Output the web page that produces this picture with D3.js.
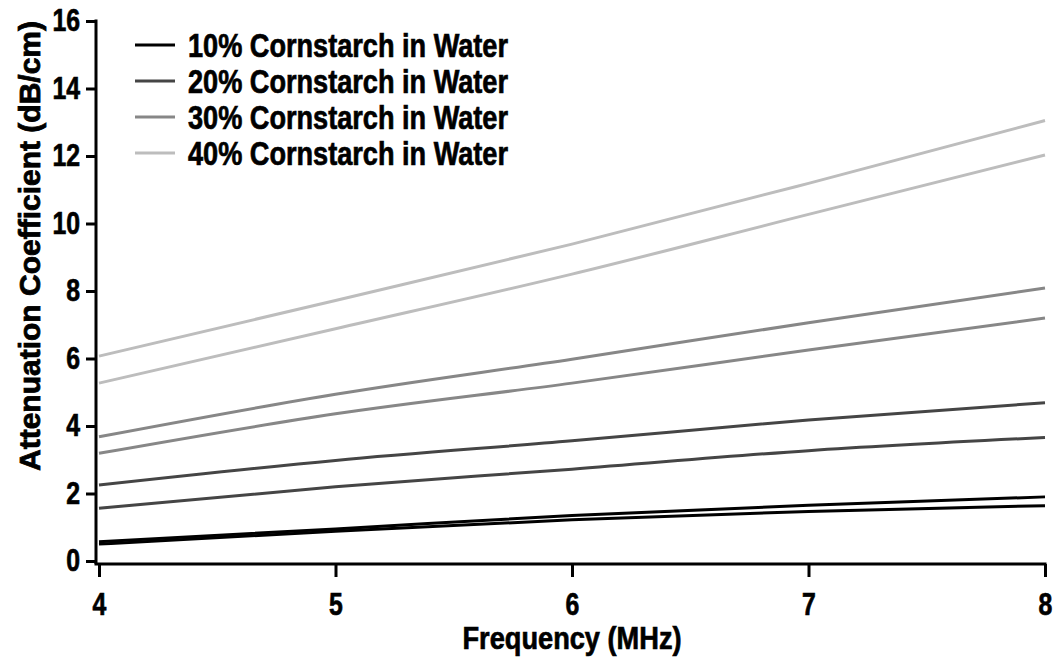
<!DOCTYPE html>
<html>
<head>
<meta charset="utf-8">
<script src="https://cdn.jsdelivr.net/npm/d3@7"></script>
<style>
  html, body { margin: 0; padding: 0; background: #fff; }
  svg { display: block; }
</style>
</head>
<body>
<svg id="chart" width="1055" height="660"></svg>
<script>
// ---- data ----
const freqs = [4, 5, 6, 7, 8];
const xTicks = [4, 5, 6, 7, 8];
const yTicks = [0, 2, 4, 6, 8, 10, 12, 14, 16];
const legendLabels = ["10% Cornstarch in Water", "20% Cornstarch in Water", "30% Cornstarch in Water", "40% Cornstarch in Water"];
const s10a = [0.57, 0.95, 1.35, 1.65, 1.90];
const s10b = [0.50, 0.88, 1.22, 1.47, 1.64];
const s20a = [2.25, 2.98, 3.56, 4.18, 4.69];
const s20b = [1.56, 2.20, 2.72, 3.27, 3.66];
const s30a = [3.68, 4.94, 5.98, 7.06, 8.09];
const s30b = [3.19, 4.36, 5.27, 6.25, 7.20];
const s40a = [6.07, 7.72, 9.39, 11.19, 13.05];
const s40b = [5.27, 6.88, 8.50, 10.27, 12.03];
const colors = ["#000000", "#454545", "#878787", "#bdbdbd"];
const seriesGroups = [[s10a, s10b], [s20a, s20b], [s30a, s30b], [s40a, s40b]];

// ---- layout ----
const svg = d3.select("#chart");
const font = "'Liberation Sans', Arial, Helvetica, sans-serif";
const SX = 0.8; // horizontal condensing to mimic Helvetica Condensed Bold
const x = d3.scaleLinear().domain([4, 8]).range([99, 1045]);
const y = d3.scaleLinear().domain([0, 16]).range([561, 21]);
const axisX = 96, axisY = 564;

// lines
const line = d3.line().x((d, i) => x(freqs[i])).y(d => y(d)).curve(d3.curveMonotoneX);
const gLines = svg.append("g");
for (let k = seriesGroups.length - 1; k >= 0; k--) {
  seriesGroups[k].forEach(s => {
    gLines.append("path").datum(s)
      .attr("d", line)
      .attr("fill", "none")
      .attr("stroke", colors[k])
      .attr("stroke-width", 3);
  });
}

function heavy(sel) {
  sel.attr("font-family", font).attr("font-weight", "bold").attr("fill", "#000")
    .attr("stroke", "#000").attr("stroke-width", 0.7);
}

// y axis
const gy = svg.append("g").attr("transform", `translate(${axisX},0)`)
  .call(d3.axisLeft(y).tickValues(yTicks).tickSize(10).tickSizeOuter(0).tickPadding(6));
gy.select(".domain").remove();
gy.selectAll(".tick line").attr("stroke", "#000").attr("stroke-width", 3);
gy.selectAll(".tick text").call(heavy).attr("font-size", 31)
  .attr("x", -16 / SX).attr("transform", `scale(${SX},1)`);
svg.append("line").attr("x1", axisX).attr("x2", axisX).attr("y1", y(16) - 1.5).attr("y2", axisY)
  .attr("stroke", "#000").attr("stroke-width", 3);

// x axis
const gx = svg.append("g").attr("transform", `translate(0,${axisY})`)
  .call(d3.axisBottom(x).tickValues(xTicks).tickFormat(d3.format("d")).tickSize(13).tickSizeOuter(0).tickPadding(16));
gx.select(".domain").remove();
gx.selectAll(".tick line").attr("stroke", "#000").attr("stroke-width", 3);
gx.selectAll(".tick text").call(heavy).attr("font-size", 31)
  .attr("transform", `scale(${SX},1)`);
svg.append("line").attr("x1", axisX - 1.5).attr("x2", x(8) + 1.5).attr("y1", axisY).attr("y2", axisY)
  .attr("stroke", "#000").attr("stroke-width", 3);

// axis titles
svg.append("text").attr("transform", `translate(${x(6)},649) scale(0.85,1)`).attr("text-anchor", "middle")
  .call(heavy).attr("font-size", 32)
  .text("Frequency (MHz)");
svg.append("text").attr("transform", "translate(40,246) rotate(-90)").attr("text-anchor", "middle")
  .call(heavy).attr("font-size", 30).attr("stroke-width", 0.8)
  .text("Attenuation Coefficient (dB/cm)");

// legend
const leg = svg.append("g");
legendLabels.forEach((lab, i) => {
  const ly = 45 + i * 36;
  leg.append("line").attr("x1", 135).attr("x2", 175).attr("y1", ly).attr("y2", ly)
    .attr("stroke", colors[i]).attr("stroke-width", 3);
  leg.append("text").attr("transform", `translate(188,${ly}) scale(0.81,1)`).attr("dy", "0.36em")
    .call(heavy).attr("font-size", 33.5)
    .text(lab);
});
</script>
</body>
</html>
